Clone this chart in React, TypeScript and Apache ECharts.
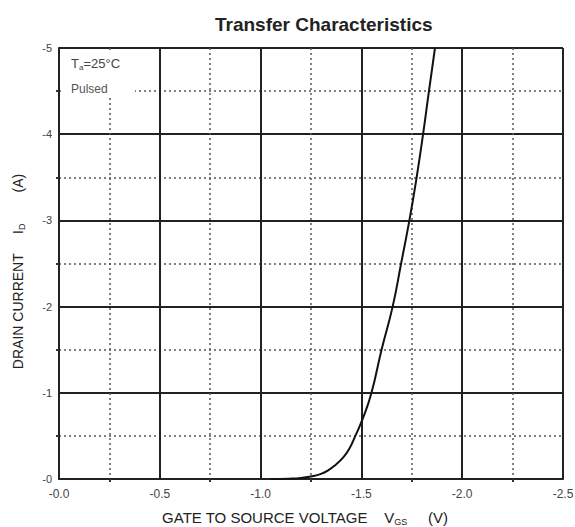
import React, { useEffect, useRef } from "react";
import * as echarts from "echarts";

const vgs = [-1.05, -1.14, -1.2, -1.25, -1.3, -1.335, -1.37, -1.41, -1.44, -1.47, -1.51, -1.55, -1.6, -1.655, -1.697, -1.738, -1.774, -1.806, -1.835, -1.865];
const idr = [0, -0.004, -0.012, -0.03, -0.06, -0.1, -0.16, -0.25, -0.35, -0.5, -0.72, -1.0, -1.5, -2.0, -2.5, -3.0, -3.5, -4.0, -4.5, -5.0];
const xTickFmt = (v: number) => (Math.abs(v) < 1e-9 ? "-0.0" : v.toFixed(1));
const yTickFmt = (v: number) => (Math.abs(v) < 1e-9 ? "-0" : String(v));

const FONT = "'Liberation Sans', Arial, sans-serif";

export default function App() {
  const ref = useRef<HTMLDivElement>(null);
  useEffect(() => {
    document.body.style.margin = "0";
    const chart = echarts.init(ref.current!, null, { renderer: "svg" });
    const data = vgs.map((v, i) => [v, idr[i]]);
    const major = { show: true, lineStyle: { color: "#222", width: 2, type: "solid" as const } };
    const minor = { show: true, lineStyle: { color: "#555", width: 1.5, type: [2, 3] as any } };
    chart.setOption({
      animation: false,
      backgroundColor: "#fff",
      textStyle: { fontFamily: FONT },
      title: {
        text: "Transfer Characteristics",
        left: 210,
        top: 10,
        textStyle: { fontFamily: FONT, fontSize: 19, fontWeight: "bold", color: "#222" },
      },
      grid: { left: 59, right: 12, top: 48, bottom: 48, containLabel: false, outerBoundsMode: "none" },
      xAxis: {
        type: "value",
        min: -2.5,
        max: 0,
        interval: 0.5,
        inverse: true,
        position: "bottom",
        axisLine: { show: true, onZero: false, lineStyle: { color: "#222", width: 2 } },
        axisTick: { show: false },
        minorTick: { show: true, splitNumber: 2, length: 3, lineStyle: { color: "#333", width: 2 } },
        splitLine: major,
        minorSplitLine: minor,
        axisLabel: { formatter: xTickFmt, fontSize: 12, color: "#444", margin: 9, fontFamily: FONT },
        name: "GATE TO SOURCE VOLTAGE    {v|V}{s|GS}     (V)",
        nameLocation: "middle",
        nameGap: 30,
        nameTextStyle: {
          fontFamily: FONT,
          fontSize: 15,
          color: "#222",
          padding: [0, 12, 0, 0],
          rich: {
            v: { fontSize: 15, color: "#222", fontFamily: FONT },
            s: { fontSize: 9, color: "#222", fontFamily: FONT, padding: [8, 0, 0, 0] },
          },
        },
      },
      yAxis: {
        type: "value",
        min: -5,
        max: 0,
        interval: 1,
        inverse: true,
        axisLine: { show: true, onZero: false, lineStyle: { color: "#222", width: 2 } },
        axisTick: { show: false },
        minorTick: { show: true, splitNumber: 2, length: 3, lineStyle: { color: "#333", width: 2 } },
        splitLine: major,
        minorSplitLine: minor,
        axisLabel: { formatter: yTickFmt, fontSize: 11, color: "#444", margin: 7, fontFamily: FONT },
        name: "DRAIN CURRENT     {i|I}{d|D}        (A)",
        nameLocation: "middle",
        nameGap: 33,
        nameTextStyle: {
          fontFamily: FONT,
          fontSize: 14,
          color: "#222",
          padding: [0, 16, 0, 0],
          rich: {
            i: { fontSize: 14, color: "#222", fontFamily: FONT },
            d: { fontSize: 9, color: "#222", fontFamily: FONT, padding: [8, 0, 0, 0] },
          },
        },
      },
      graphic: [
        { type: "rect", z: 50, shape: { x: 61, y: 50, width: 74, height: 48 }, style: { fill: "#fff" } },
        {
          type: "text",
          z: 51,
          x: 71,
          y: 56,
          style: {
            text: "{t|T}{a|a}{t|=25°C}",
            fontFamily: FONT,
            rich: {
              t: { fontSize: 13, fill: "#444", fontFamily: FONT },
              a: { fontSize: 8, fill: "#444", fontFamily: FONT, padding: [7, 0, 0, 0] },
            },
          },
        },
        {
          type: "text",
          z: 51,
          x: 71,
          y: 83,
          style: { text: "Pulsed", fontSize: 12, fill: "#555", fontFamily: FONT },
        },
      ],
      series: [
        {
          type: "line",
          data,
          smooth: 0.5,
          showSymbol: false,
          clip: true,
          lineStyle: { color: "#111", width: 2 },
          z: 10,
        },
      ],
    });
    return () => chart.dispose();
  }, []);
  return <div ref={ref} style={{ position: "absolute", left: 0, top: 0, width: 575, height: 527 }} />;
}
